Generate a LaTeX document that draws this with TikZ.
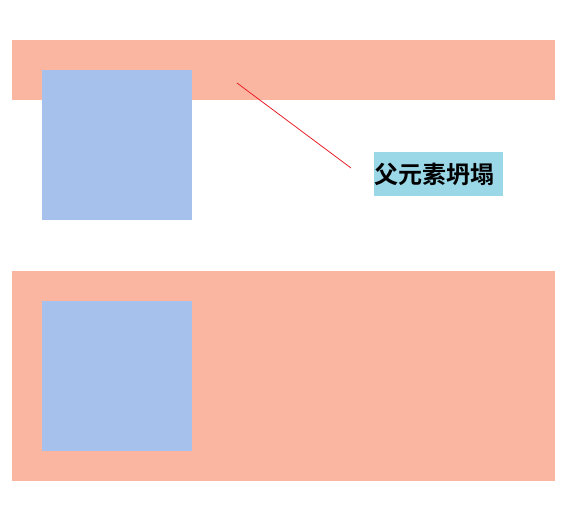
\documentclass[tikz,border=0pt]{standalone}
\usepackage{fontspec}
\newfontfamily\cjk[BoldFont={Noto Sans CJK SC Bold}]{Noto Sans CJK SC}
\definecolor{barc}{HTML}{FBB6A1}
\definecolor{boxc}{HTML}{A7C1ED}
\definecolor{labc}{HTML}{9AD8E8}
\definecolor{linec}{HTML}{E8202A}
\begin{document}
\begin{tikzpicture}[x=1pt,y=-1pt,
  bar/.style={fill=barc,draw=none},
  sq/.style={fill=boxc,draw=none},
  lab/.style={fill=labc,inner sep=0pt,minimum width=129pt,minimum height=44pt,text width=129pt,align=left,font=\cjk\bfseries\fontsize{24}{24}\selectfont}]
\useasboundingbox (0,0) rectangle (568,515);
\path[bar] (12,40) rectangle (555,100);
\path[sq] (42,70) rectangle (192,220);
\path[bar] (12,271) rectangle (555,481);
\path[sq] (42,301) rectangle (192,451);
\node[lab,anchor=north west] (label) at (374,152) {父元素坍塌};
\coordinate (p1) at (237,83);
\coordinate (p2) at (351,168);
\draw[linec,line width=0.8pt] (p1) -- (p2);
\end{tikzpicture}
\end{document}
